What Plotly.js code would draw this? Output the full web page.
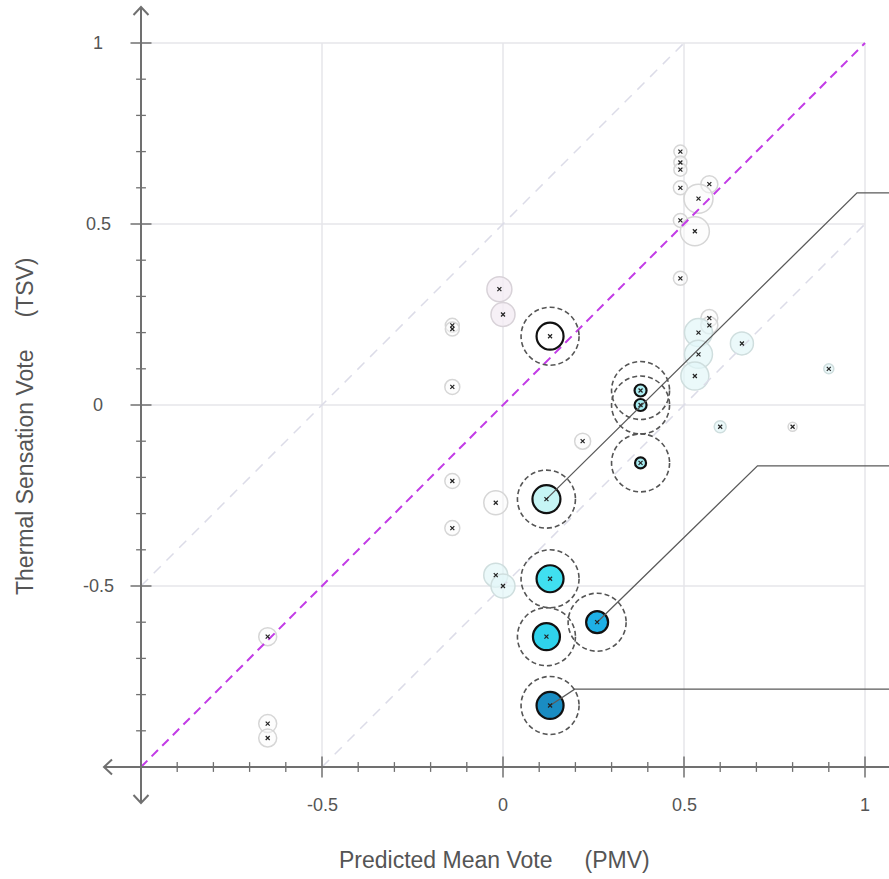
<!DOCTYPE html>
<html>
<head>
<meta charset="utf-8">
<script src="https://cdn.plot.ly/plotly-3.0.1.min.js"></script>
<style>html,body{margin:0;padding:0;background:#fff;}#chart{width:889px;height:879px;}</style>
</head>
<body>
<div id="chart"></div>
<script>
// ---- Data: background (unselected) observations ----
const bgPMV = [-0.65, -0.65, -0.65, -0.14, -0.14, -0.14, -0.14, -0.14, -0.01, 0.00, -0.02, -0.02, 0.00, 0.22,
  0.49, 0.49, 0.49, 0.49, 0.49, 0.49, 0.57, 0.54, 0.53, 0.57, 0.57, 0.54, 0.54, 0.53, 0.66, 0.90, 0.60, 0.80];
const bgTSV = [-0.64, -0.88, -0.92, 0.22, 0.21, 0.05, -0.21, -0.34, 0.32, 0.25, -0.27, -0.47, -0.50, -0.10,
  0.70, 0.67, 0.65, 0.60, 0.51, 0.35, 0.61, 0.57, 0.48, 0.24, 0.22, 0.20, 0.14, 0.08, 0.17, 0.10, -0.06, -0.06];
const bgBubble = [18, 18, 18, 14, 14, 15, 15, 15, 25, 24, 24, 24, 24, 16,
  13, 13, 13, 14, 14, 14, 17, 29, 29, 17, 17, 28, 28, 28, 23, 10, 12, 9];
const bgGroup = ['g','g','g','g','g','g','g','g','p','p','g','c','c','g',
  'g','g','g','g','g','g','g','g','g','g','g','c','c','c','c','c','c','g'];

// ---- Data: highlighted observations ----
const hlPMV = [0.13, 0.38, 0.38, 0.38, 0.12, 0.13, 0.12, 0.26, 0.13];
const hlTSV = [0.19, 0.04, 0.00, -0.16, -0.26, -0.48, -0.64, -0.60, -0.83];
const hlBubble = [27, 12, 12, 11, 28, 27, 27, 22, 27];
const hlLevel = [0, 0.45, 0.5, 0.5, 0.3, 0.7, 0.75, 0.87, 1.0];

// ---- Leader lines: index into highlighted points and elbow positions ----
const leaderFrom = [4, 7, 8];
const leaderElbowPMV = [0.978, 0.703, 0.198];
const leaderElbowTSV = [0.586, -0.168, -0.785];

// ---- Axis ticks / labels ----
const majorTicks = [-0.5, 0, 0.5, 1];
const majorLabels = ['-0.5', '0', '0.5', '1'];
const minorTicks = [-0.9,-0.8,-0.7,-0.6,-0.4,-0.3,-0.2,-0.1,0.1,0.2,0.3,0.4,0.6,0.7,0.8,0.9];

const PX = 362; // px per unit
const XR = [-1 - 42/PX, 1 + 24/PX];
const YR = [-1 - 42/PX, 1 + 41/PX];
const FONT = 'Liberation Sans, Arial, sans-serif';
const TXT = '#555555';
const AX = '#707070';

const tint = {g: 'rgba(251,251,251,0.5)', p: 'rgba(244,236,244,0.8)', c: 'rgba(226,247,248,0.7)'};
const ringCol = {g: '#d6d6d6', p: '#d8d2d8', c: '#cfdede'};

const traces = [];
// background rings
traces.push({
  type: 'scatter', mode: 'markers', x: bgPMV, y: bgTSV, hoverinfo: 'skip', showlegend: false,
  marker: {size: bgBubble, opacity: 1, color: bgGroup.map(g => tint[g]),
    line: {color: bgGroup.map(g => ringCol[g]), width: 1.5}}
});
// reference diagonals
traces.push({type: 'scatter', mode: 'lines', x: [-1, 0.5], y: [-0.5, 1], hoverinfo: 'skip', showlegend: false,
  line: {color: '#dcdce8', width: 1.5, dash: '10px,8px'}});
traces.push({type: 'scatter', mode: 'lines', x: [-0.5, 1], y: [-1, 0.5], hoverinfo: 'skip', showlegend: false,
  line: {color: '#dcdce8', width: 1.5, dash: '10px,8px'}});
traces.push({type: 'scatter', mode: 'lines', x: [-1, 1], y: [-1, 1], hoverinfo: 'skip', showlegend: false,
  line: {color: '#c23be6', width: 2, dash: '9px,6px'}});
// highlighted points
traces.push({
  type: 'scatter', mode: 'markers', x: hlPMV, y: hlTSV, hoverinfo: 'skip', showlegend: false,
  marker: {size: hlBubble, opacity: 1, color: hlLevel, cmin: 0, cmax: 1,
    colorscale: [[0, '#ffffff'], [0.3, '#c6f5f5'], [0.5, '#a6ecf1'], [0.7, '#40e0f0'], [0.75, '#2fd3ec'], [0.87, '#1eb0e6'], [1, '#1a8cc2']],
    line: {color: '#111111', width: 2.2}}
});
// leader lines
leaderFrom.forEach((idx, k) => {
  traces.push({type: 'scatter', mode: 'lines', hoverinfo: 'skip', showlegend: false,
    x: [hlPMV[idx], leaderElbowPMV[k], XR[1] + 0.1],
    y: [hlTSV[idx], leaderElbowTSV[k], leaderElbowTSV[k]],
    line: {color: '#5a5a5a', width: 1.3}});
});
// centre crosses
traces.push({
  type: 'scatter', mode: 'markers', x: bgPMV.concat(hlPMV), y: bgTSV.concat(hlTSV), hoverinfo: 'skip', showlegend: false,
  marker: {symbol: 'x-thin', size: 4, line: {color: '#222', width: 1.2}, color: '#222'}
});
// axis ticks
const yAxisX = -1, xAxisY = -1;
traces.push({type: 'scatter', mode: 'markers', x: minorTicks.map(() => yAxisX), y: minorTicks, hoverinfo: 'skip', showlegend: false, cliponaxis: false,
  marker: {symbol: 'line-ew', size: 7, line: {color: AX, width: 1.3}}});
traces.push({type: 'scatter', mode: 'markers', x: majorTicks.map(() => yAxisX), y: majorTicks, hoverinfo: 'skip', showlegend: false, cliponaxis: false,
  marker: {symbol: 'line-ew', size: 15, line: {color: AX, width: 1.5}}});
traces.push({type: 'scatter', mode: 'markers', x: minorTicks, y: minorTicks.map(() => xAxisY), hoverinfo: 'skip', showlegend: false, cliponaxis: false,
  marker: {symbol: 'line-ns', size: 7, line: {color: AX, width: 1.3}}});
traces.push({type: 'scatter', mode: 'markers', x: majorTicks, y: majorTicks.map(() => xAxisY), hoverinfo: 'skip', showlegend: false, cliponaxis: false,
  marker: {symbol: 'line-ns', size: 15, line: {color: AX, width: 1.5}}});

const shapes = [];
// grid
majorTicks.forEach(v => {
  shapes.push({type: 'line', xref: 'x', yref: 'y', x0: v, x1: v, y0: -1, y1: 1, layer: 'below', line: {color: '#e6e6ea', width: 1.5}});
  shapes.push({type: 'line', xref: 'x', yref: 'y', x0: -1, x1: 1, y0: v, y1: v, layer: 'below', line: {color: '#e6e6ea', width: 1.5}});
});
// axis lines
const tipTop = 1 + 36/PX, tipBottom = -1 - 36/PX, tipLeft = -1 - 37/PX;
shapes.push({type: 'line', xref: 'x', yref: 'y', x0: yAxisX, x1: yAxisX, y0: tipBottom, y1: tipTop, line: {color: AX, width: 2}});
shapes.push({type: 'line', xref: 'x', yref: 'y', x0: tipLeft, x1: XR[1] + 0.1, y0: xAxisY, y1: xAxisY, line: {color: AX, width: 2}});
// arrow heads
const arrow = (xa, ya, path) => ({type: 'path', xref: 'x', yref: 'y', xsizemode: 'pixel', ysizemode: 'pixel',
  xanchor: xa, yanchor: ya, path: path, line: {color: AX, width: 2}});
shapes.push(arrow(yAxisX, tipTop, 'M -7.5,-8 L 0,0 L 7.5,-8'));
shapes.push(arrow(yAxisX, tipBottom, 'M -7.5,8 L 0,0 L 7.5,8'));
shapes.push(arrow(tipLeft, xAxisY, 'M 8,7.5 L 0,0 L 8,-7.5'));
// dashed selection rings around highlighted points
hlPMV.forEach((x, i) => {
  shapes.push({type: 'circle', xref: 'x', yref: 'y', xsizemode: 'pixel', ysizemode: 'pixel',
    xanchor: x, yanchor: hlTSV[i], x0: -29, x1: 29, y0: -29, y1: 29, layer: 'above',
    line: {color: '#555', width: 1.6, dash: '5px,3px'}});
});

const annotations = [];
majorTicks.forEach((v, i) => {
  annotations.push({xref: 'x', yref: 'y', x: v, y: xAxisY, yshift: -38, text: majorLabels[i], showarrow: false,
    xanchor: 'center', yanchor: 'middle', font: {family: FONT, size: 18, color: TXT}});
  annotations.push({xref: 'x', yref: 'y', x: yAxisX, y: v, xshift: -43, text: majorLabels[i], showarrow: false,
    xanchor: 'center', yanchor: 'middle', font: {family: FONT, size: 18, color: TXT}});
});
annotations.push({xref: 'paper', yref: 'paper', x: (494 - 99) / 790, y: -(860 - 809) / 807, text: 'Predicted Mean Vote\u00a0\u00a0\u00a0\u00a0 (PMV)',
  showarrow: false, xanchor: 'center', yanchor: 'middle', font: {family: FONT, size: 23, color: TXT}});
annotations.push({xref: 'paper', yref: 'paper', x: -(99 - 25) / 790, y: (809 - 427) / 807, text: 'Thermal Sensation Vote\u00a0\u00a0\u00a0\u00a0 (TSV)',
  showarrow: false, textangle: -90, xanchor: 'center', yanchor: 'middle', font: {family: FONT, size: 23, color: TXT}});

const layout = {
  width: 889, height: 879,
  margin: {l: 99, r: 0, t: 2, b: 70, pad: 0},
  paper_bgcolor: '#ffffff', plot_bgcolor: '#ffffff',
  showlegend: false,
  xaxis: {range: XR, showgrid: false, zeroline: false, showline: false, showticklabels: false, ticks: '', fixedrange: true},
  yaxis: {range: YR, showgrid: false, zeroline: false, showline: false, showticklabels: false, ticks: '', fixedrange: true},
  shapes: shapes,
  annotations: annotations
};

Plotly.newPlot('chart', traces, layout, {displayModeBar: false, staticPlot: true});
</script>
</body>
</html>
